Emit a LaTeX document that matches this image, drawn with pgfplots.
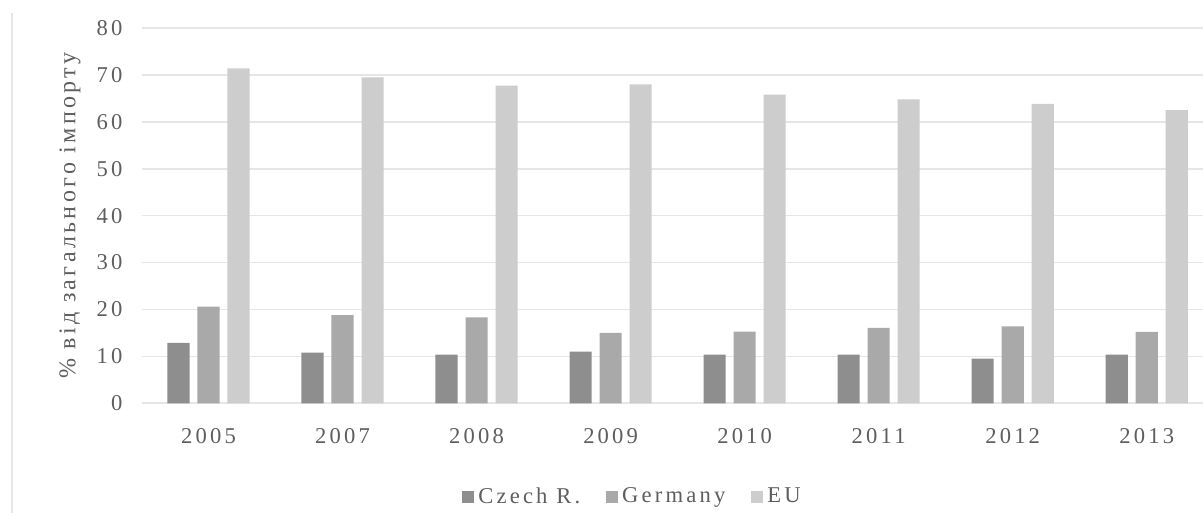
\documentclass[border=0pt]{standalone}
\usepackage{fontspec}
\setmainfont{Liberation Serif}[LetterSpace=14]
\usepackage{pgfplots}
\pgfplotsset{compat=1.18}

\definecolor{czech}{HTML}{8E8E8E}
\definecolor{germany}{HTML}{A9A9A9}
\definecolor{eu}{HTML}{CDCDCD}
\definecolor{txt}{HTML}{5E5E5E}
\definecolor{gridc}{HTML}{E6E6E6}

\pgfplotstableread{
x  czech germany eu
0  12.9  20.6  71.4
1  10.8  18.8  69.5
2  10.4  18.3  67.7
3  11.0  15.0  68.0
4  10.4  15.3  65.8
5  10.4  16.1  64.8
6   9.5  16.4  63.8
7  10.4  15.2  62.5
}\imports

\begin{document}
\begin{tikzpicture}[x=1pt,y=1pt]
\useasboundingbox (0,0) rectangle (601.5,256.5);
\draw[gridc, line width=1pt] (6,0) -- (6,250);
\begin{axis}[
  at={(70.75pt,54.85pt)}, anchor=south west,
  scale only axis, width=530.75pt, height=187.65pt,
  ybar, bar width=0.165,
  xmin=-0.5, xmax=7.42, ymin=0, ymax=80,
  xtick={0,...,7},
  xticklabels={2005,2007,2008,2009,2010,2011,2012,2013},
  ytick={0,10,...,80},
  axis line style={draw=none},
  major tick length=0pt,
  ymajorgrids, xmajorgrids=false,
  major grid style={draw=gridc, line width=0.8pt},
  /pgf/number format/assume math mode=true,
  tick label style={font=\fontsize{11.3}{13}\selectfont, text=txt},
  xticklabel style={yshift=-9pt},
  yticklabel style={xshift=-6pt},
  ylabel={\% від загального імпорту},
  every axis y label/.style={at={(rel axis cs:0,0.5)}, xshift=-35.75pt, rotate=90, anchor=center,
    font=\fontsize{12}{14}\selectfont, text=txt},
  legend columns=3,
  legend style={at={(0.4635,-0.2497)}, anchor=center, draw=none, fill=none,
    font=\fontsize{11.3}{13}\selectfont, text=txt,
    /tikz/every even column/.append style={column sep=11pt}},
  legend image code/.code={\fill[#1, draw=none] (0pt,-3pt) rectangle (6pt,3pt);},
  legend cell align=left,
]
\addplot[fill=czech, draw=none, bar shift=-0.224] table[x=x, y=czech] {\imports};
\addplot[fill=germany, draw=none, bar shift=0] table[x=x, y=germany] {\imports};
\addplot[fill=eu, draw=none, bar shift=0.224] table[x=x, y=eu] {\imports};
\legend{Czech R.,Germany,EU}
\end{axis}
\end{tikzpicture}
\end{document}
